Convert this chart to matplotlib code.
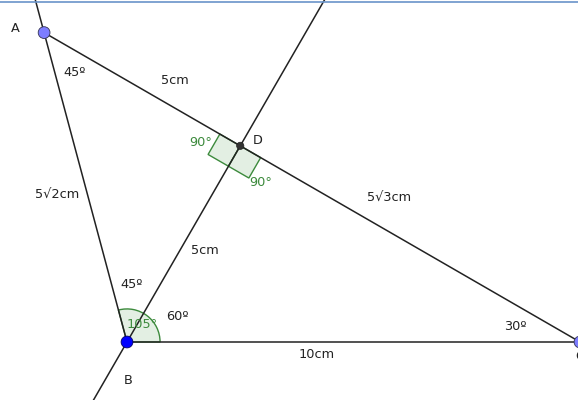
import numpy as np
import matplotlib
matplotlib.use("Agg")
import matplotlib.pyplot as plt
from matplotlib.patches import Wedge, Polygon, Circle

# geometry (cm): B at origin, BC along x
BC = 10.0
BA = 5 * np.sqrt(2)
BD = 5.0
ANGLE_B = 105.0
ANGLE_DBC = 60.0

B = np.array([0.0, 0.0])
C = np.array([BC, 0.0])
A = BA * np.array([np.cos(np.radians(ANGLE_B)), np.sin(np.radians(ANGLE_B))])
D = BD * np.array([np.cos(np.radians(ANGLE_DBC)), np.sin(np.radians(ANGLE_DBC))])

# pixel mapping of the reference
SCALE = 45.3          # px per cm
B_PX = (127, 342)
W, H = 578, 400

GREEN = "#3c8a3c"
FILL = "#e3efe3"

fig = plt.figure(figsize=(W / 100, H / 100), dpi=100)
ax = fig.add_axes([0, 0, 1, 1])
ax.set_xlim(-B_PX[0] / SCALE, (W - B_PX[0]) / SCALE)
ax.set_ylim(-(H - B_PX[1]) / SCALE, B_PX[1] / SCALE)
ax.set_aspect("equal")
ax.axis("off")

lw = 1.1
# ray B -> A, extended past A
u = (A - B) / np.linalg.norm(A - B)
p = B + u * 9
ax.plot([B[0], p[0]], [B[1], p[1]], color="#222222", lw=lw, zorder=2)
# full line through B and D
v = (D - B) / np.linalg.norm(D - B)
p1, p2 = B - v * 3, B + v * 9.6
ax.plot([p1[0], p2[0]], [p1[1], p2[1]], color="#222222", lw=lw, zorder=2)
# segments AC, BC
ax.plot([A[0], C[0]], [A[1], C[1]], color="#222222", lw=lw, zorder=2)
ax.plot([B[0], C[0]], [B[1], C[1]], color="#222222", lw=lw, zorder=2)

# right angle squares at D
s = 0.52
da = (A - D) / np.linalg.norm(A - D)
dc = (C - D) / np.linalg.norm(C - D)
db = (B - D) / np.linalg.norm(B - D)
for d in (da, dc):
    sq = [D, D + d * s, D + d * s + db * s, D + db * s]
    ax.add_patch(Polygon(sq, closed=True, facecolor=FILL, edgecolor=GREEN,
                         lw=1.0, zorder=1))

# angle arc at B
ax.add_patch(Wedge(B, 0.73, 0, ANGLE_B, facecolor=FILL, edgecolor=GREEN,
                   lw=1.0, zorder=1))

# points
ax.add_patch(Circle(A, 0.13, facecolor="#7d7dff", edgecolor="#333355",
                    lw=0.6, zorder=4))
ax.add_patch(Circle(C, 0.13, facecolor="#7d7dff", edgecolor="#333355",
                    lw=0.6, zorder=4))
ax.add_patch(Circle(B, 0.13, facecolor="#0000ff", edgecolor="#000066",
                    lw=0.6, zorder=4))
ax.add_patch(Circle(D, 0.08, facecolor="#333333", edgecolor="#222222",
                    lw=0.5, zorder=4))


def px(x, y):
    return ((x - B_PX[0]) / SCALE, (B_PX[1] - y) / SCALE)


labels = [
    ("A", 15, 28, "#222222"),
    ("B", 128, 380, "#222222"),
    ("C", 580, 356, "#222222"),
    ("D", 258, 141, "#222222"),
    ("45º", 75, 72, "#222222"),
    ("5cm", 175, 80, "#222222"),
    ("90°", 201, 142, GREEN),
    ("90°", 261, 182, GREEN),
    ("5√3cm", 389, 197, "#222222"),
    ("5√2cm", 57, 194, "#222222"),
    ("5cm", 205, 251, "#222222"),
    ("45º", 132, 284, "#222222"),
    ("60º", 177, 317, "#222222"),
    ("105°", 142, 324, GREEN),
    ("30º", 515, 326, "#222222"),
    ("10cm", 317, 354, "#222222"),
]
for text, x, y, col in labels:
    ax.text(*px(x, y), text, color=col, fontsize=9.3, ha="center",
            va="center", zorder=5)

# thin frame line at the top
fig.add_artist(plt.Line2D([0, 1], [0.996, 0.996], transform=fig.transFigure,
                          color="#6a93c9", lw=1.2))

fig.savefig("out.png", dpi=100)
